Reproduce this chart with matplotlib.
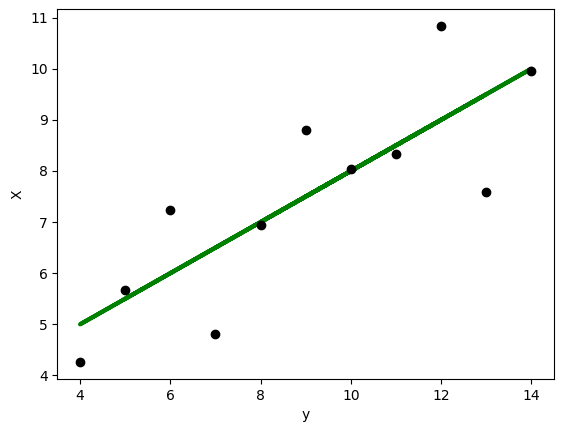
import numpy as np
import matplotlib
matplotlib.use("Agg")
import matplotlib.pyplot as plt

x_vals = [10, 8, 13, 9, 11, 14, 6, 4, 12, 7, 5]
y_vals = [8.04, 6.95, 7.58, 8.81, 8.33, 9.96, 7.24, 4.26, 10.84, 4.82, 5.68]

x = np.array(x_vals)
y = np.array(y_vals)
slope, intercept = np.polyfit(x, y, 1)

fig = plt.figure(figsize=(5.63, 4.32), dpi=100)
ax = fig.add_axes([0.1021, 0.1227, 0.8819, 0.8565])
ax.scatter(x, y, color="black", s=36, zorder=3)
ax.plot(x, slope * x + intercept, color="green", linewidth=3)
ax.set_xlabel("y")
ax.set_ylabel("X")
fig.savefig("out.png", dpi=100)
